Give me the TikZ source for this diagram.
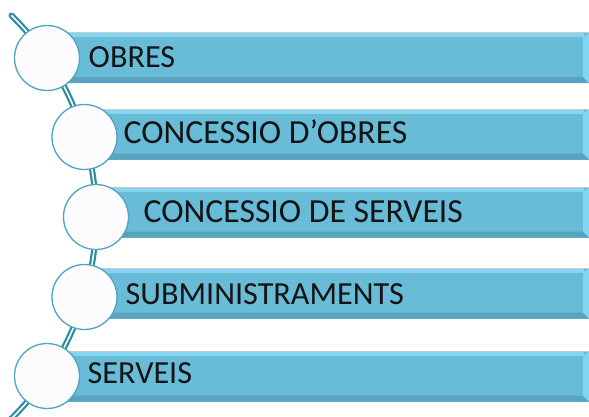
\documentclass[tikz,border=0pt]{standalone}
\usepackage{fontspec}
\setmainfont{Carlito}
\definecolor{barmain}{HTML}{68BCD8}
\definecolor{bartop}{HTML}{84D5F0}
\definecolor{barbot}{HTML}{5AA3BD}
\definecolor{barright}{HTML}{80D6F2}
\definecolor{barline}{HTML}{C5CACC}
\definecolor{spinecol}{HTML}{2C8CA2}
\definecolor{ringcol}{HTML}{4DA5BF}
\definecolor{bubblefill}{HTML}{FDFBFE}
\newcommand\ribbon[2]{%
  \path[fill=barmain] (#1,#2-25) rectangle (589,#2+25);
  \path[fill=bartop] (#1,#2-25) rectangle (584,#2-21);
  \path[fill=barbot] (#1,#2+19) -- (583,#2+19) -- (589,#2+25) -- (#1,#2+25) -- cycle;
  \path[fill=barright] (583,#2-21) -- (589,#2-25) -- (589,#2+25) -- (583,#2+19) -- cycle;
  \draw[barline, line width=0.8pt] (#1,#2-25.4) -- (589,#2-25.4);
}
\begin{document}
\begin{tikzpicture}[x=1pt,y=-1pt,
  bubble/.style={circle, draw=ringcol, line width=1.3pt, fill=bubblefill, minimum size=65pt, inner sep=0pt},
  spine/.style={draw=spinecol, line width=2.2pt, double=white, double distance=1.6pt, line cap=round},
  label/.style={anchor=base west, inner sep=0pt, text=black!92, font=\fontsize{32.2}{38}\selectfont},
  biglabel/.style={label, font=\fontsize{33.7}{40}\selectfont}]
\useasboundingbox[fill=white] (0,0) rectangle (589,416);
% spine
\coordinate (top) at (11.5,15.5);
\draw[spine] (top) arc[start angle=-45.5, end angle=47, radius=282.5];
% bars
\ribbon{47}{58}
\ribbon{84}{134.5}
\ribbon{96}{212.5}
\ribbon{84}{293.5}
\ribbon{47}{376.5}
% circles
\node[bubble] (c1) at (47,58) {};
\node[bubble] (c2) at (84.5,137) {};
\node[bubble] (c3) at (96,217) {};
\node[bubble] (c4) at (84.5,297) {};
\node[bubble] (c5) at (47,376) {};
% labels
\node[label] (t1) at (88.5,67) {OBRES};
\node[biglabel] (t2) at (123.5,143) {CONCESSIO D’OBRES};
\node[biglabel] (t3) at (143.5,222) {CONCESSIO DE SERVEIS};
\node[label] (t4) at (125.5,304) {SUBMINISTRAMENTS};
\node[label] (t5) at (87.5,383) {SERVEIS};
\end{tikzpicture}
\end{document}
